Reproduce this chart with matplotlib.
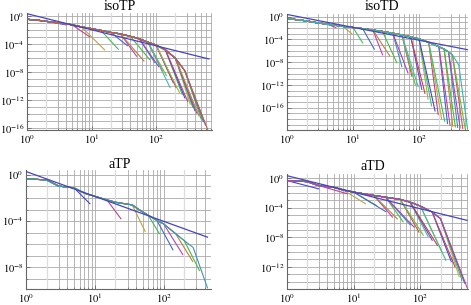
"""
four log-log panels, cutoff curves + power law guide line
"""

import colorsys
import numpy as np
import matplotlib
matplotlib.use("Agg")
import matplotlib.pyplot as plt
from matplotlib.ticker import FixedLocator, NullFormatter

plt.rcParams["font.family"] = ["Liberation Serif", "DejaVu Serif"]
plt.rcParams["mathtext.fontset"] = "stix"

# ---- isoTP (values are log10 of y) ----
tp_env_x = [1, 1.5, 2, 3, 4, 5, 7, 10, 14, 20, 28, 40, 55, 75, 100, 140, 200, 280, 400]
tp_env_y = [-0.4, -0.55, -0.7, -0.9, -1.05, -1.2, -1.5, -1.75, -2.0, -2.3, -2.5, -2.85,
            -3.2, -3.7, -4.1, -4.8, -6.0, -7.8, -11.0]
tp_cut_x = [4, 9.3, 16, 26, 36, 50, 65, 80, 95, 110, 125, 145, 165, 185, 205, 230, 255,
            280, 310, 340, 370, 400, 430, 465, 500, 540, 585, 630]
tp_cut_y = [-1.2, -2.9, -4.8, -4.7, -4.2, -5.7, -6.4, -6.2, -6.6, -7.2, -7.8, -8.5, -10.2,
            -9.5, -10.2, -10.9, -11.2, -11.7, -12.2, -12.6, -13.0, -13.5, -13.9, -14.3,
            -14.7, -15.1, -15.6, -16.2]
tp_line_x = [1, 660]
tp_line_y = [0.4, -6.1]

# ---- isoTD ----
td_env_x = [1, 1.5, 2, 3, 4, 5, 7, 10, 14, 20, 28, 40, 55, 75, 100, 140, 200, 240, 280,
            320, 400]
td_env_y = [-0.35, -0.55, -0.75, -1.1, -1.3, -1.45, -1.7, -1.9, -2.1, -2.35, -2.6, -2.9,
            -3.2, -3.55, -3.9, -4.5, -5.3, -5.7, -6.2, -6.7, -8.5]
td_cut_x = [3, 5.5, 9.6, 14, 21, 28, 36, 46, 55, 68, 78, 88, 97, 110, 123, 137, 155, 175,
            195, 220, 245, 270, 295, 325, 355, 385, 420, 460, 500, 545]
td_cut_y = [-1.2, -1.9, -3.0, -4.6, -5.7, -6.7, -6.9, -8.1, -8.8, -9.9, -10.5, -12.0,
            -12.3, -12.8, -13.5, -14.5, -15.7, -16.6, -17.2, -18.0, -18.4, -18.8, -19.1,
            -19.3, -19.4, -19.5, -19.6, -19.7, -19.7, -19.8]
td_line_x = [1, 540]
td_line_y = [0.4, -5.8]

# ---- aTP ----
atp_env_x = [1, 2, 3, 5, 7, 10, 15, 20, 35, 45, 60, 80, 100, 150, 200, 270, 330]
atp_env_y = [-0.32, -0.44, -0.97, -1.12, -1.57, -1.86, -2.16, -2.37, -2.6, -3.05, -3.5,
             -3.94, -4.24, -5.1, -5.7, -6.3, -7.2]
atp_cut_x = [8.5, 24, 54, 87, 137, 190, 265, 333, 435]
atp_cut_y = [-2.5, -3.8, -4.9, -5.1, -6.5, -6.9, -7.5, -8.3, -9.8]
atp_line_x = [1, 435]
atp_line_y = [0.3, -5.4]

# ---- aTD ----
atd_env_x = [1, 2, 3, 5, 7, 10, 20, 30, 50, 70, 100, 150, 200, 300, 400]
atd_env_y = [-0.31, -0.45, -0.99, -1.21, -1.6, -1.88, -2.33, -2.56, -2.87, -3.23, -3.77,
             -4.58, -5.47, -7.3, -9.96]
atd_cut_x = [3, 8, 15, 22, 30, 38, 45, 55, 70, 80, 95, 110, 130, 150, 180, 210, 240, 290,
             330, 380, 420, 460, 500]
atd_cut_y = [-1.44, -2.1, -3.45, -3.7, -4.5, -5.25, -5.5, -5.9, -6.3, -6.6, -7.3, -7.7,
             -7.9, -8.4, -9.1, -10.0, -11.1, -11.3, -12.0, -13.3, -13.8, -14.2, -14.8]
atd_line_x = [1, 500]
atd_line_y = [0.35, -5.7]


def mma_color(k):
    h = (0.67 + 0.236068 * k) % 1.0
    return colorsys.hsv_to_rgb(h, 0.62, 0.72)


W, H = 471, 305
fig = plt.figure(figsize=(W / 100, H / 100), dpi=100)


def add_panel(box, xlim, ylim, title, title_xy):
    l, t, r, b = box
    ax = fig.add_axes([l / W, 1 - b / H, (r - l) / W, (b - t) / H])
    ax.set_xscale("log")
    ax.set_yscale("log")
    ax.set_xlim(*xlim)
    ax.set_ylim(10.0 ** ylim[0], 10.0 ** ylim[1])
    fig.text(title_xy[0] / W, 1 - title_xy[1] / H, title, ha="center", va="center",
             fontsize=10)
    return ax


def style(ax, xmax, ylo, yhi):
    dec = [d for d in range(int(np.floor(ylo)), int(np.ceil(yhi)) + 1) if ylo <= d <= yhi]
    big = [d for d in dec if d % 4 == 0]
    ax.yaxis.set_major_locator(FixedLocator([10.0 ** d for d in big]))
    ax.yaxis.set_minor_locator(FixedLocator([10.0 ** d for d in dec]))
    ax.set_yticklabels([r"$10^{%d}$" % d for d in big])
    ax.yaxis.set_minor_formatter(NullFormatter())

    ax.xaxis.set_major_locator(FixedLocator([1, 10, 100]))
    ax.set_xticklabels([r"$10^{0}$", r"$10^{1}$", r"$10^{2}$"])
    mins = [m * 10 ** e for e in range(3) for m in range(3, 10) if m * 10 ** e < xmax]
    ax.xaxis.set_minor_locator(FixedLocator(mins))
    ax.xaxis.set_minor_formatter(NullFormatter())

    ax.grid(True, which="both", color="#a9a9a9", lw=0.6)
    for v in (2, 20, 200):
        if v < xmax:
            ax.axvline(v, color="#dcdcdc", lw=0.9, zorder=0.6)
    ax.set_axisbelow(True)

    for s in ("top", "right"):
        ax.spines[s].set_visible(False)
    for s in ("left", "bottom"):
        ax.spines[s].set_color("#666666")
        ax.spines[s].set_linewidth(0.8)
    ax.tick_params(which="both", direction="in", colors="#666666", labelcolor="black",
                   labelsize=7.5, pad=2)
    ax.tick_params(which="major", length=3, width=0.6)
    ax.tick_params(which="minor", length=1.5, width=0.5)


def draw_curves(ax, env_x, env_y, cut_x, cut_y, line_x, line_y, frac):
    for k, (n, yend) in enumerate(zip(cut_x, cut_y)):
        xs = [x for x in env_x if x <= frac * n]
        ys = [y for x, y in zip(env_x, env_y) if x <= frac * n]
        xs.append(n)
        ys.append(yend)
        ax.plot(xs, 10.0 ** np.array(ys), color=mma_color(k), lw=0.8, zorder=2)
    ax.plot(line_x, 10.0 ** np.array(line_y), color=mma_color(0), lw=0.9, zorder=3)


ax1 = add_panel((27, 13, 212, 130), (1, 738), (-16.3, 0.5), "isoTP", (120, 6))
draw_curves(ax1, tp_env_x, tp_env_y, tp_cut_x, tp_cut_y, tp_line_x, tp_line_y, 0.6)
style(ax1, 738, -16.3, 0.5)

ax2 = add_panel((287, 14, 468, 130), (1, 552), (-19.95, 0.48), "isoTD", (382, 6))
draw_curves(ax2, td_env_x, td_env_y, td_cut_x, td_cut_y, td_line_x, td_line_y, 0.75)
style(ax2, 552, -19.95, 0.48)

ax3 = add_panel((26, 170, 211, 289), (1, 490), (-9.9, 0.43), "aTP", (120, 164))
draw_curves(ax3, atp_env_x, atp_env_y, atp_cut_x, atp_cut_y, atp_line_x, atp_line_y, 0.7)
style(ax3, 490, -9.9, 0.43)

ax4 = add_panel((287, 174, 468, 289), (1, 516), (-15.0, 0.58), "aTD", (373, 166))
draw_curves(ax4, atd_env_x, atd_env_y, atd_cut_x, atd_cut_y, atd_line_x, atd_line_y, 0.55)
style(ax4, 516, -15.0, 0.58)

fig.savefig("out.png", dpi=100)
